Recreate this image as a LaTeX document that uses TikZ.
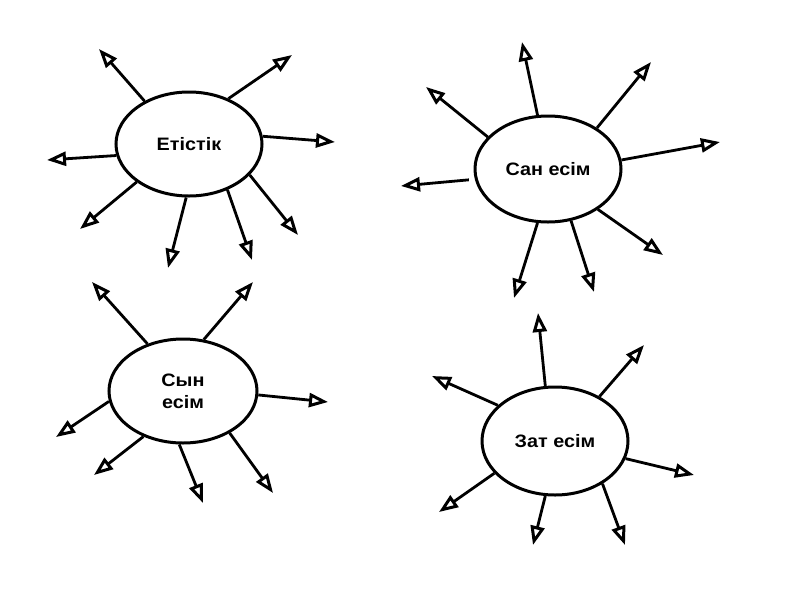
\documentclass[tikz,border=0pt]{standalone}
\usepackage{fontspec}
\setmainfont{Liberation Sans}
\newfontfamily\lblfont[FakeStretch=1.1]{Liberation Sans Bold}
\usetikzlibrary{arrows.meta,shapes.geometric}
\tikzset{
  bubble/.style={draw, ellipse, line width=3pt, inner sep=0pt, align=center,
    font=\lblfont\fontsize{18}{22}\selectfont},
  ray/.style={line width=2.8pt, -{Triangle[open, length=19pt, width=14pt, line width=3pt]}},
}
\begin{document}
\begin{tikzpicture}[x=1pt,y=-1pt]
\useasboundingbox (0,0) rectangle (800,600);
% ---------- Етістік
\node[bubble, minimum width=146pt, minimum height=104pt] (e1) at (189,144) {Етістік};
\coordinate (t11) at (99,49);
\coordinate (t12) at (292,55);
\coordinate (t13) at (335,142);
\coordinate (t14) at (47,160);
\coordinate (t15) at (80,229);
\coordinate (t16) at (168,268);
\coordinate (t17) at (252,260);
\coordinate (t18) at (298,235);
\draw[ray] (e1.136) -- (t11);
\draw[ray] (e1.49) -- (t12);
\draw[ray] (e1.6) -- (t13);
\draw[ray] (e1.189) -- (t14);
\draw[ray] (e1.216) -- (t15);
\draw[ray] (e1.267) -- (t16);
\draw[ray] (e1.310) -- (t17);
\draw[ray] (e1.333) -- (t18);
% ---------- Сан есім
\node[bubble, minimum width=146pt, minimum height=106pt] (e2) at (548,169) {Сан есім};
\coordinate (t21) at (522,42);
\coordinate (t22) at (651,62);
\coordinate (t23) at (426,87);
\coordinate (t24) at (720,142);
\coordinate (t25) at (401,186);
\coordinate (t26) at (663,255);
\coordinate (t27) at (514,298);
\coordinate (t28) at (594,292);
\draw[ray] (e2.101) -- (t21);
\draw[ray] (e2.40) -- (t22);
\draw[ray] (e2.152) -- (t23);
\draw[ray] (e2.7) -- (t24);
\draw[ray, shorten <=6pt] (e2.188) -- (t25);
\draw[ray] (e2.321) -- (t26);
\draw[ray] (e2.259) -- (t27);
\draw[ray] (e2.294) -- (t28);
% ---------- Сын есім
\node[bubble, minimum width=148pt, minimum height=104pt] (e3) at (183,391) {Сын\\есім};
\coordinate (t31) at (92,282);
\coordinate (t32) at (253,282);
\coordinate (t33) at (328,402);
\coordinate (t34) at (56,437);
\coordinate (t35) at (94,475);
\coordinate (t36) at (203,503);
\coordinate (t37) at (273,493);
\draw[ray] (e3.127) -- (t31);
\draw[ray] (e3.68) -- (t32);
\draw[ray] (e3.357) -- (t33);
\draw[ray] (e3.188) -- (t34);
\draw[ray] (e3.229) -- (t35);
\draw[ray] (e3.266) -- (t36);
\draw[ray] (e3.318) -- (t37);
% ---------- Зат есім
\node[bubble, minimum width=146pt, minimum height=108pt] (e4) at (555,441) {Зат есім};
\coordinate (t41) at (538,313);
\coordinate (t42) at (644,345);
\coordinate (t43) at (432,376);
\coordinate (t44) at (694,475);
\coordinate (t45) at (439,512);
\coordinate (t46) at (533,545);
\coordinate (t47) at (625,545);
\draw[ray] (e4.100) -- (t41);
\draw[ray] (e4.45) -- (t42);
\draw[ray] (e4.148) -- (t43);
\draw[ray] (e4.346) -- (t44);
\draw[ray] (e4.208) -- (t45);
\draw[ray] (e4.260) -- (t46);
\draw[ray] (e4.318) -- (t47);
\end{tikzpicture}
\end{document}
